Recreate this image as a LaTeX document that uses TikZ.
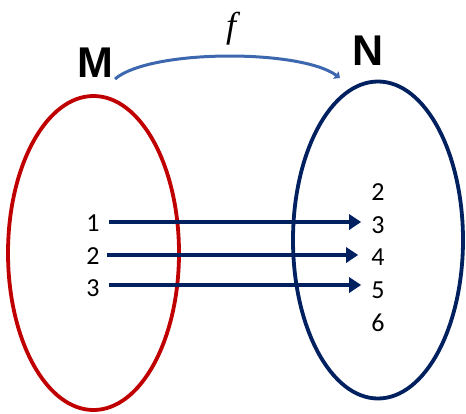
\documentclass[tikz,border=0pt]{standalone}
\usepackage{fontspec}
\setmainfont{Carlito}
\newfontfamily\lettfont{Liberation Sans}
\newfontfamily\fnfont{Liberation Serif}
\usetikzlibrary{shapes.geometric,arrows.meta}
\definecolor{setred}{HTML}{C00000}
\definecolor{navy}{HTML}{002060}
\definecolor{fblue}{HTML}{3D68B0}
\tikzset{
  setell/.style={ellipse, draw, line width=3.8pt, inner sep=0pt},
  num/.style={inner sep=0pt, font=\fontsize{26}{26}\selectfont},
  setlabel/.style={inner sep=0pt, font=\lettfont\bfseries\fontsize{43}{43}\selectfont},
  maparrow/.style={navy, line width=3.5pt, -{Triangle[length=12pt,width=15pt]}},
}
\begin{document}
\begin{tikzpicture}[x=1pt,y=-1pt]
\useasboundingbox (0,0) rectangle (466,413);
\node[setell, draw=setred, minimum width=171pt, minimum height=314pt] (Mset) at (93.5,253) {};
\node[setell, draw=navy, minimum width=170pt, minimum height=317pt] (Nset) at (378,240) {};
\node[setlabel] (M) at (95,63) {M};
\node[setlabel] (N) at (368,51) {N};
\node[inner sep=0pt, font=\fnfont\itshape\fontsize{36}{36}\selectfont] (f) at (231,29) {f};
\coordinate (a1) at (115,79);
\coordinate (a2) at (340,78);
\draw[fblue, line width=3pt, -{Triangle[length=5pt,width=9pt]}] (a1) .. controls (150,49) and (300,49) .. (a2);
\node[num] (l1) at (93,223) {1};
\node[num] (l2) at (93,256) {2};
\node[num] (l3) at (93,288) {3};
\node[num] (r2) at (378,192) {2};
\node[num] (r3) at (378,225) {3};
\node[num] (r4) at (378,257) {4};
\node[num] (r5) at (378,290) {5};
\node[num] (r6) at (378,323) {6};
\draw[maparrow] ([xshift=9pt]l1.east) ++(0,-1) -- ([xshift=-10pt]r3.west |- 0,222);
\draw[maparrow] ([xshift=7pt]l2.east |- 0,255) -- ([xshift=-13pt]r4.west |- 0,255);
\draw[maparrow] ([xshift=9pt]l3.east |- 0,285) -- ([xshift=-10pt]r5.west |- 0,285);
\end{tikzpicture}
\end{document}
